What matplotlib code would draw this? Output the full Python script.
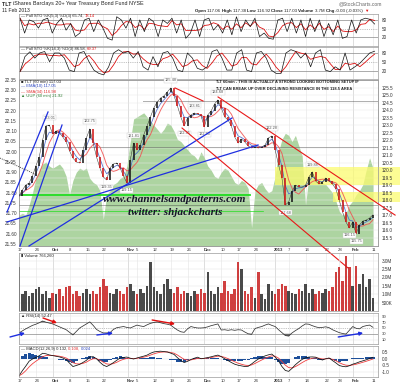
import numpy as np
import pandas as pd
import matplotlib
matplotlib.use('Agg')
import matplotlib.pyplot as plt
from matplotlib.patches import Rectangle
from matplotlib.transforms import ScaledTranslation

plt.rcParams['font.family'] = ['Liberation Sans', 'DejaVu Sans']

W, H = 400, 386

# ---------------- data (one value per trading day, Sep 17 2012 -> Feb 11 2013) ----------------
tlt_close = [118.28, 118.68, 119.01, 119.15, 119.61, 120.28, 120.88, 122.01, 122.95, 123.01,
             122.41, 122.61, 122.48, 122.21, 121.88, 121.28, 120.81, 120.55, 120.48, 121.35,
             122.15, 122.75, 121.81, 120.88, 120.15, 119.55, 119.35, 120.15, 120.41, 120.48,
             120.15, 119.61, 119.15, 120.68, 121.81, 121.35, 121.68, 122.35, 122.95, 123.55,
             124.15, 124.55, 124.81, 124.95, 125.21, 125.48, 124.95, 124.28, 123.55, 122.95,
             123.48, 123.68, 123.81, 123.75, 123.61, 122.90, 123.68, 123.95, 124.41, 124.68,
             124.15, 123.55, 123.35, 122.95, 122.21, 121.81, 122.08, 121.88, 121.61, 121.48,
             121.55, 121.48, 121.55, 121.68, 122.15, 122.28, 121.35, 120.35, 119.48, 117.68,
             117.88, 118.61, 119.01, 118.88, 118.88, 119.01, 119.55, 119.88, 119.28, 119.08,
             119.21, 119.48, 119.28, 119.08, 118.75, 118.01, 117.21, 116.55, 116.15, 116.55,
             115.75, 116.35, 116.61, 116.68, 116.81, 117.03]

uup_close = [21.69, 21.70, 21.69, 21.74, 21.80, 21.87, 21.91, 21.94, 21.95, 21.93,
             21.92, 21.93, 21.94, 21.92, 21.88, 21.79, 21.86, 21.90, 21.92, 21.91,
             21.92, 21.87, 21.85, 21.84, 21.81, 21.67, 21.79, 21.81, 21.84, 21.85,
             21.87, 21.88, 21.93, 22.05, 22.16, 22.17, 22.18, 22.19, 22.17, 22.15,
             22.13, 22.11, 22.09, 22.11, 22.14, 22.13, 22.10, 22.06, 22.05, 22.03,
             22.01, 21.99, 21.98, 21.96, 22.00, 21.97, 21.93, 21.91, 21.88, 21.87,
             21.90, 21.92, 21.91, 21.88, 21.85, 21.84, 21.86, 21.85, 21.82, 21.63,
             21.81, 21.84, 21.85, 21.82, 21.80, 21.81, 21.88, 22.00, 22.06, 22.09,
             22.08, 22.05, 22.08, 22.03, 21.98, 21.74, 21.88, 21.91, 21.86, 21.87,
             21.85, 21.84, 21.82, 21.80, 21.76, 21.71, 21.69, 21.70, 21.74, 21.76,
             21.79, 21.81, 21.84, 21.91, 21.97, 21.92]

volume_m = [2.6, 1.0, 1.2, 0.9, 1.1, 1.3, 1.4, 1.0, 1.2, 0.8,
            1.1, 1.0, 1.3, 0.9, 1.4, 1.5, 1.0, 1.2, 0.9, 1.1,
            1.3, 1.0, 1.2, 1.0, 1.4, 1.9, 1.5, 1.1, 1.0, 1.3,
            1.2, 1.0, 1.4, 1.6, 1.2, 1.0, 1.3, 1.1, 1.5, 2.9,
            1.4, 1.2, 1.0, 1.6, 1.9, 1.3, 1.1, 1.4, 1.0, 1.2,
            1.1, 0.9, 1.2, 1.0, 1.3, 1.1, 2.3, 1.2, 1.0, 1.4,
            1.1, 1.8, 1.2, 1.0, 1.3, 2.9, 2.5, 1.2, 1.0, 1.4,
            0.8, 2.3, 1.0, 0.7, 1.6, 1.2, 1.0, 1.3, 1.6, 1.5,
            1.2, 1.1, 1.0, 1.3, 1.2, 1.6, 1.1, 1.3, 1.0, 1.2,
            1.1, 1.3, 1.2, 1.4, 2.3, 2.6, 1.8, 3.3, 2.6, 1.5,
            2.7, 1.6, 2.2, 1.4, 1.9, 0.77]

rsi14 = [33, 40, 47, 53, 59, 63, 68, 74, 70, 67,
         64, 59, 54, 49, 44, 35, 26, 38, 50, 57,
         64, 71, 59, 45, 38, 33, 33, 34, 45, 51,
         53, 55, 52, 50, 55, 60, 57, 55, 61, 66,
         69, 71, 68, 65, 63, 60, 51, 43, 37, 35,
         47, 55, 52, 50, 50, 51, 54, 58, 61, 64,
         43, 44, 42, 44, 42, 44, 43, 36, 30, 28,
         48, 52, 55, 60, 64, 59, 55, 44, 34, 24,
         22, 33, 41, 48, 57, 64, 63, 58, 54, 51,
         52, 54, 51, 44, 39, 34, 31, 29, 42, 55,
         49, 47, 55, 58, 60, 52.47]

macd_line = [-1.30, -0.90, -0.55, -0.17, 0.00, 0.12, 0.25, 0.44, 0.40, 0.31,
             0.26, 0.21, 0.16, 0.08, -0.05, -0.32, -0.58, -0.50, -0.41, -0.26,
             -0.10, 0.15, 0.18, 0.02, -0.25, -0.47, -0.58, -0.45, -0.28, -0.10,
             0.08, 0.12, 0.15, 0.06, 0.00, 0.08, 0.15, 0.22, 0.30, 0.44,
             0.54, 0.58, 0.60, 0.57, 0.54, 0.45, 0.35, 0.10, -0.12, -0.27,
             -0.18, -0.04, 0.06, 0.14, 0.02, 0.06, 0.11, 0.17, 0.24, 0.30,
             0.18, 0.02, -0.12, -0.27, -0.40, -0.48, -0.53, -0.58, -0.56, -0.38,
             -0.18, 0.00, 0.12, 0.24, 0.32, 0.38, 0.15, -0.15, -0.58, -0.88,
             -0.95, -0.72, -0.44, -0.22, -0.03, 0.09, 0.15, 0.16, 0.14, 0.02,
             -0.08, 0.02, 0.08, -0.12, -0.30, -0.50, -0.57, -0.60, -0.52, -0.40,
             -0.32, -0.22, -0.14, -0.06, 0.04, 0.132]

# stochastics are sampled more finely (evenly spread over the same date range)
sto_fast_k = [86, 35, 80, 74, 52, 80, 86, 35, 68, 86, 45, 68, 23, 35, 80, 86, 40, 80, 52, 17,
              11, 91, 80, 52, 86, 23, 80, 40, 86, 74, 23, 80, 68, 86, 35, 80, 17, 35, 80, 23,
              80, 86, 45, 63, 35, 80, 29, 91, 40, 80, 57, 86, 23, 35, 17, 14, 80, 86, 40, 86,
              35, 80, 23, 86, 40, 80, 23, 68, 29, 80, 17, 23, 80, 35, 80, 86, 82, 66]
sto_slow_k = [19, 69, 85, 64, 81, 86, 52, 81, 81, 64, 24, 19, 81, 86, 52, 24, 13, 8, 35, 81,
              92, 81, 86, 64, 86, 35, 24, 69, 35, 81, 86, 64, 24, 19, 81, 64, 30,
              24, 35, 86, 92, 64, 24, 24, 81, 92, 24, 19, 81, 86, 64, 24, 13, 13, 81, 92,
              86, 64, 81, 35, 81, 92, 24, 19, 35, 24, 81, 24, 35, 47, 64, 81, 87]

tick_days = [0, 5, 10, 15, 20, 25, 32.4, 35, 40, 45, 50, 55, 60, 65, 70, 76, 80, 85, 91, 95, 99, 105]
tick_labels = ['17', '24', 'Oct', '8', '15', '22', 'Nov', '5', '12', '19', '26', 'Dec',
               '10', '17', '24', '2013', '7', '14', '22', '28', 'Feb', '11']
month_labels = ['Oct', 'Nov', 'Dec', '2013', 'Feb']

# labelled swing highs / lows (day index, above/below)
swing_marks = [(9, 1), (21, 1), (26, -1), (32, -1), (34, 1), (45, 1), (49, -1), (52, 1),
               (55, -1), (59, 1), (75, 1), (79, -1), (87, 1), (98, -1), (100, -1)]

# hand drawn trendlines (day, price)
blue_lines = [((-3.56, 117.21), (8.61, 123.88)), ((0.30, 114.95), (12.76, 123.01)),
              ((-3.56, 116.55), (70.92, 121.68)), ((2.97, 114.95), (63.20, 123.48))]
red_lines = [((46.29, 125.48), (54.60, 124.61)), ((59.05, 124.88), (111.57, 117.01)),
             ((48.37, 122.81), (97.63, 113.48))]
dotted_levels = [(124.58, 36.8), (121.55, 0), (117.65, 0)]
green_levels = [(118.35, 68.5, 1.3), (117.28, 72.4, 0.5)]
yellow_zones = [(119.0, 120.2, 76.0), (117.85, 118.55, 93.2)]

# rsi arrows (start day, start rsi, end day, end rsi, colour)
rsi_arrows = [(-2.67, 19, 1.78, 32.8, '#1f2fe0'), (7.12, 84.5, 11.28, 67.2, '#e01010'),
              (23.1, 25.9, 27.9, 32.8, '#1f2fe0'), (39.5, 77.6, 46.3, 63.8, '#e01010'),
              (94.7, 19, 102.1, 32.8, '#1f2fe0')]

# ---------------- figure ----------------
fig = plt.figure(figsize=(4.0, 3.86), dpi=100)
fig.patch.set_facecolor('white')
renderer = fig.canvas.get_renderer()
XMAX = 106.5
days = np.arange(len(tlt_close))


def px_text(x, y, s, **kw):
    kw.setdefault('fontsize', 3.4)
    kw.setdefault('va', 'center')
    kw.setdefault('color', '#222222')
    return fig.text(x / W, 1 - y / H, s, **kw)


def seg_text(x, y, parts, **kw):
    # write coloured / bold pieces one after another on one line
    for s, c, wt in parts:
        t = px_text(x, y, s, color=c, fontweight=wt, **kw)
        x += t.get_window_extent(renderer=renderer).width


def panel(top, bottom, dates=False):
    ax = fig.add_axes([19 / W, 1 - bottom / H, (378 - 19) / W, (bottom - top) / H])
    ax.set_xlim(0, XMAX)
    ax.set_xticks(tick_days)
    for s in ax.spines.values():
        s.set_color('#9a9a9a')
        s.set_linewidth(0.5)
    ax.tick_params(length=0, labelsize=3.3, colors='#333333', pad=1.2)
    for d, lab in zip(tick_days, tick_labels):
        ax.axvline(d, color='#c4c4c4' if lab in month_labels else '#e4e4e4', lw=0.4, zorder=0)
    if dates:
        ax.set_xticklabels(tick_labels, ha='left', fontsize=3.1)
        shift = ScaledTranslation(-1.0 / 100, 0, fig.dpi_scale_trans)
        for t in ax.get_xticklabels():
            t.set_transform(t.get_transform() + shift)
            if t.get_text() in month_labels:
                t.set_fontweight('bold')
    else:
        ax.set_xticklabels([])
    return ax


def right_ticks(ax, ticks, labels):
    ax.yaxis.tick_right()
    ax.set_yticks(ticks)
    ax.set_yticklabels(labels)
    ax.tick_params(axis='y', pad=2.5)


# ---- stochastics ----
for (top, bot, kvals, lo, hi) in [(14, 46, sto_fast_k, -9.3, 100.4), (47, 79, sto_slow_k, -5.7, 101)]:
    ax = panel(top, bot)
    xs = np.linspace(0.3, 105.5, len(kvals))
    dvals = pd.Series(kvals).rolling(3, min_periods=1).mean()
    for lvl, ls in [(80, '-'), (20, '-'), (50, ':')]:
        ax.axhline(lvl, color='#8a8a8a', lw=0.5, ls=ls, zorder=1)
    ax.plot(xs, dvals, color='#dd1111', lw=0.6)
    ax.plot(xs, kvals, color='#111111', lw=0.5)
    ax.set_ylim(lo, hi)
    right_ticks(ax, [20, 50, 80], ['20', '50', '80'])

seg_text(21, 16, [('\u2014 Full STO %K(5,3) %D(3) 65.74, ', '#222222', 'normal'),
                  ('78.14', '#e01010', 'normal')], fontsize=3.0)
seg_text(21, 49, [('\u2014 Full STO %K(14,3) %D(3) 86.58, ', '#222222', 'normal'),
                  ('69.37', '#e01010', 'normal')], fontsize=3.0)

# ---- price panel ----
ax_u = panel(80, 246, dates=True)
ax_u.set_ylim(21.54, 22.343)
ax_u.fill_between(days, 21.54, uup_close, color='#add4a1', lw=0, zorder=1)
uticks = np.arange(21.55, 22.351, 0.05)
ax_u.set_yticks(uticks)
ax_u.set_yticklabels([f'{v:.2f}' for v in uticks])
ax_u.tick_params(axis='y', pad=1.5)

ax_p = ax_u.twinx()
ax_p.set_xlim(0, XMAX)
ax_p.set_ylim(114.95, 126.01)
for s in ax_p.spines.values():
    s.set_color('#9a9a9a')
    s.set_linewidth(0.5)
pticks = np.arange(115.5, 125.51, 0.5)
ax_p.set_yticks(pticks)
ax_p.set_yticklabels([f'{v:.1f}' for v in pticks])
ax_p.tick_params(axis='y', length=0, labelsize=3.3, colors='#333333', pad=2.5)
for v in pticks:
    ax_p.axhline(v, color='#e9e9e9', lw=0.35, zorder=0.5)

for lo, hi, d0 in yellow_zones:
    ax_p.add_patch(Rectangle((d0, lo), 113 - d0, hi - lo, facecolor='#fbfb70', alpha=0.75,
                             lw=0, clip_on=False, zorder=1))
for lvl, d0 in dotted_levels:
    ax_p.plot([d0, XMAX], [lvl, lvl], color='#444444', lw=0.6, ls=(0, (1.2, 1.2)), zorder=2)
for lvl, d1, lw in green_levels:
    ax_p.plot([0, d1], [lvl, lvl], color='#22dd22', lw=lw, zorder=2)

close = np.array(tlt_close)
prev = np.r_[close[0], close[:-1]]
up = close >= prev
ema = pd.Series(tlt_close).ewm(span=3, adjust=False).mean()
sma = pd.Series(tlt_close).rolling(5, min_periods=1).mean()
ax_p.plot(days, sma, color='#f05050', lw=0.7, alpha=0.85, zorder=3)
ax_p.plot(days, ema, color='#4060c8', lw=0.6, alpha=0.85, zorder=3)
ax_p.plot(days, close, color='#333333', lw=0.35, zorder=4)
ax_p.vlines(days[up], prev[up], close[up], color='#111111', lw=1.1, zorder=4)
ax_p.vlines(days[~up], close[~up], prev[~up], color='#d01010', lw=1.1, zorder=4)

for i, side in swing_marks:
    ax_p.text(i, tlt_close[i] + 0.5 * side, f'{tlt_close[i]:.2f}', fontsize=2.8, color='#555555',
              ha='center', va='center', zorder=5,
              bbox=dict(boxstyle='square,pad=0.15', fc='white', ec='#cccccc', lw=0.3))

for (a, b) in blue_lines:
    ax_p.plot([a[0], b[0]], [a[1], b[1]], color='#1f2fe0', lw=0.9, clip_on=False, zorder=6)
for (a, b) in red_lines:
    ax_p.plot([a[0], b[0]], [a[1], b[1]], color='#e81818', lw=0.8, clip_on=False, zorder=6)
ax_p.plot([-5.64, 5.34], [120.81, 119.68], color='#333333', lw=0.6, ls=(0, (1.2, 1.2)),
          clip_on=False, zorder=6)

px_text(21, 81.5, '\u25a0 TLT (60 min) 117.03', fontsize=3.0)
px_text(21, 86.5, '\u2014 EMA(10) 117.05', fontsize=3.0, color='#2a44c0')
px_text(21, 91.5, '\u2014 SMA(34) 116.98', fontsize=3.0, color='#e03030')
px_text(21, 96.5, '\u25b2 UUP (60 min) 21.92', fontsize=3.0, color='#2e7d32')

px_text(215, 82, 'TLT 60min - THIS IS ACTUALLY A STRONG LOOKING BOTTOMING SETUP IF',
        fontsize=2.9, fontweight='bold')
px_text(215, 89.5, 'TLT CAN BREAK UP OVER DECLINING RESISTANCE IN THE 118.5 AREA',
        fontsize=2.9, fontweight='bold')
px_text(103, 200, 'www.channelsandpatterns.com', fontsize=8, family='Liberation Serif',
        style='italic', fontweight='bold', color='#141428')
px_text(128, 213, 'twitter: shjackcharts', fontsize=8, family='Liberation Serif',
        style='italic', fontweight='bold', color='#141428')

# ---- volume ----
ax_v = panel(253, 311)
ax_v.patch.set_alpha(0)
vol = np.array(volume_m)
ax_v.bar(days[up], vol[up], width=0.75, color='#2a2a2a', alpha=0.85, lw=0)
ax_v.bar(days[~up], vol[~up], width=0.75, color='#c81e1e', alpha=0.85, lw=0)
ax_v.set_ylim(0, 3.45)
vticks = [0.5, 1.0, 1.5, 2.0, 2.5, 3.0]
for v in vticks:
    ax_v.axhline(v, color='#e6e6e6', lw=0.35, zorder=0)
right_ticks(ax_v, vticks, ['500K', '1.0M', '1.5M', '2.0M', '2.5M', '3.0M'])
px_text(21, 256, '\u25ae Volume 766,260', fontsize=3.0)

# ---- RSI ----
ax_r = panel(313, 344)
r = np.array(rsi14, dtype=float)
for v in [10, 90]:
    ax_r.axhline(v, color='#e6e6e6', lw=0.35, zorder=0)
for v, ls in [(70, '-'), (30, '-'), (50, ':')]:
    ax_r.axhline(v, color='#8a8a8a', lw=0.5, ls=ls, zorder=1)
ax_r.fill_between(days, r, 30, where=r < 30, interpolate=True, color='#666666', lw=0)
ax_r.fill_between(days, r, 70, where=r > 70, interpolate=True, color='#666666', lw=0)
ax_r.plot(days, r, color='#333333', lw=0.55)
ax_r.set_ylim(-5.2, 101.7)
right_ticks(ax_r, [10, 30, 50, 70, 90], ['10', '30', '50', '70', '90'])
ax_r.tick_params(axis='y', labelsize=3.0)
for x0, y0, x1, y1, c in rsi_arrows:
    ax_r.annotate('', xy=(x1, y1), xytext=(x0, y0), annotation_clip=False,
                  arrowprops=dict(arrowstyle='-|>', color=c, lw=1.0, mutation_scale=5,
                                  shrinkA=0, shrinkB=0))
px_text(21, 316.5, '\u25b2 RSI(14) 52.47', fontsize=3.0)

# ---- MACD ----
ax_m = panel(346, 377, dates=True)
m = pd.Series(macd_line)
sig = m.ewm(span=4, adjust=False).mean()
hist = m - sig
ax_m.bar(days, hist, width=0.95, color='#1d4f9a', lw=0)
ax_m.plot(days, sig, color='#f04040', lw=0.6)
ax_m.plot(days, m, color='#111111', lw=0.55)
ax_m.set_ylim(-1.385, 1.0)
mticks = [-1.0, -0.5, 0.0, 0.5]
for v in mticks:
    ax_m.axhline(v, color='#e6e6e6', lw=0.35, zorder=0)
right_ticks(ax_m, mticks, [f'{v:.1f}' for v in mticks])
seg_text(21, 349, [('\u2014 MACD(12,26,9) 0.132, ', '#222222', 'normal'),
                   ('0.108, ', '#e03030', 'normal'),
                   ('0.024', '#2a44c0', 'normal')], fontsize=3.0)

# ---- header ----
seg_text(2, 4, [('TLT ', '#222222', 'bold'),
                ('iShares Barclays 20+ Year Treasury Bond Fund NYSE', '#222222', 'normal')],
         fontsize=3.9)
px_text(2, 11, '11 Feb 2013', fontsize=3.6)
px_text(382, 4, '@StockCharts.com', fontsize=3.6, ha='right', color='#666666')
seg_text(195, 11, [('Open ', '#222222', 'bold'), ('117.06 ', '#222222', 'normal'),
                   ('High ', '#222222', 'bold'), ('117.38 ', '#222222', 'normal'),
                   ('Low ', '#222222', 'bold'), ('116.92 ', '#222222', 'normal'),
                   ('Close ', '#222222', 'bold'), ('117.03 ', '#222222', 'normal'),
                   ('Volume ', '#222222', 'bold'), ('3.7M ', '#222222', 'normal'),
                   ('Chg ', '#222222', 'bold'), ('-0.03 (-0.03%) ', '#222222', 'normal'),
                   ('\u25bc', '#e01010', 'normal')], fontsize=3.2)

fig.savefig('out.png', dpi=100, facecolor='white')
